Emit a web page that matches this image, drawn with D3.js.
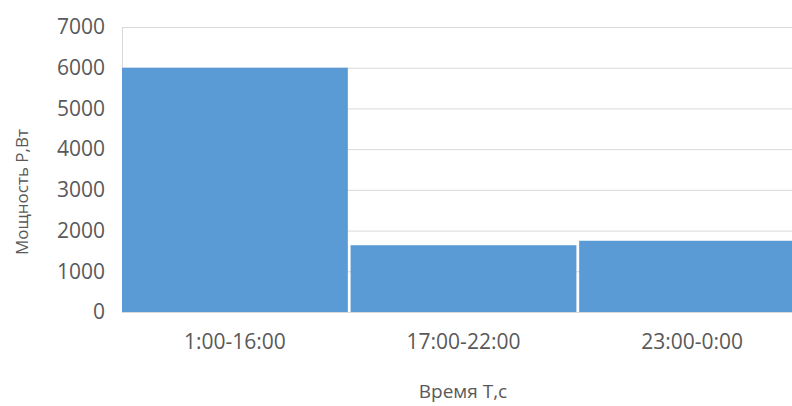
<!DOCTYPE html>
<html>
<head>
<meta charset="utf-8">
<script src="https://cdn.jsdelivr.net/npm/d3@7"></script>
<style>
  body { margin: 0; background: #fff; }
  text { font-family: "Open Sans", sans-serif; fill: #595959; }
</style>
</head>
<body>
<div id="chart"></div>
<script>
// data
var periods = ["1:00-16:00", "17:00-22:00", "23:00-0:00"];
var power = [6000, 1640, 1750];
var yTicks = [0, 1000, 2000, 3000, 4000, 5000, 6000, 7000];

var W = 792, H = 406;
var margin = {top: 27, left: 122, bottom: 94};
var plotRight = 805;

var svg = d3.select("#chart")
    .append("svg")
    .attr("width", W)
    .attr("height", H);

var x = d3.scaleBand()
    .domain(periods)
    .range([margin.left, plotRight])
    .paddingInner(0.012)
    .paddingOuter(0);

var y = d3.scaleLinear()
    .domain([0, 7000])
    .range([H - margin.bottom, margin.top]);

// gridlines
svg.append("g")
    .selectAll("line")
    .data(yTicks)
    .enter()
    .append("line")
    .attr("x1", margin.left)
    .attr("x2", plotRight)
    .attr("y1", d => y(d) + 0.5)
    .attr("y2", d => y(d) + 0.5)
    .attr("stroke", "#d9d9d9")
    .attr("stroke-width", 1);

// left border
svg.append("line")
    .attr("x1", margin.left + 0.5)
    .attr("x2", margin.left + 0.5)
    .attr("y1", y(7000))
    .attr("y2", y(0))
    .attr("stroke", "#d9d9d9");

// bars
svg.append("g")
    .selectAll("rect")
    .data(periods)
    .enter()
    .append("rect")
    .attr("x", d => x(d))
    .attr("width", x.bandwidth())
    .attr("y", (d, i) => y(power[i]))
    .attr("height", (d, i) => y(0) - y(power[i]))
    .attr("fill", "#5b9bd5");

// y axis labels
var yAxis = svg.append("g")
    .attr("transform", "translate(" + margin.left + ",0)")
    .call(d3.axisLeft(y).tickValues(yTicks).tickFormat(d3.format("d")).tickSize(0).tickPadding(17));
yAxis.select(".domain").remove();
yAxis.selectAll("text")
    .style("font-size", "21px")
    .style("font-family", "'Open Sans', sans-serif")
    .attr("fill", "#595959");

// x axis labels
var xAxis = svg.append("g")
    .attr("transform", "translate(0," + y(0) + ")")
    .call(d3.axisBottom(x).tickSize(0).tickPadding(22));
xAxis.select(".domain").remove();
xAxis.selectAll("text")
    .style("font-size", "21px")
    .style("font-family", "'Open Sans', sans-serif")
    .attr("fill", "#595959");

// axis titles
svg.append("text")
    .attr("x", 463)
    .attr("y", 398)
    .attr("text-anchor", "middle")
    .style("font-size", "19px")
    .text("Время Т,с");

svg.append("text")
    .attr("transform", "translate(28,192) rotate(-90)")
    .attr("text-anchor", "middle")
    .style("font-size", "17px")
    .text("Мощность P,Вт");
</script>
</body>
</html>
